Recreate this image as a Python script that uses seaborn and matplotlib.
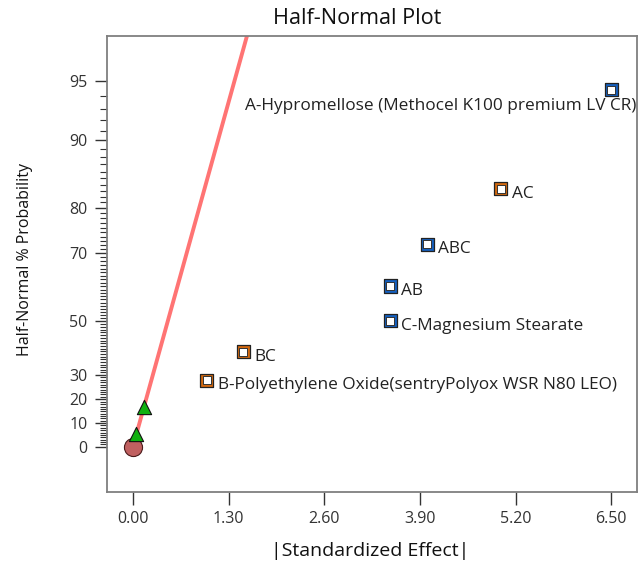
import matplotlib
matplotlib.use("Agg")
import matplotlib.pyplot as plt
import seaborn as sns
import pandas as pd
import numpy as np
from statistics import NormalDist

sns.set_style("white")
plt.rcParams['font.family'] = ['Open Sans', 'DejaVu Sans']

# effects (|standardized effect| vs half-normal % probability)
effect_names = ["A", "AC", "ABC", "AB", "C", "BC", "B"]
effect_labels = ["A-Hypromellose (Methocel K100 premium LV CR)", "AC", "ABC", "AB",
                 "C-Magnesium Stearate", "BC",
                 "B-Polyethylene Oxide(sentryPolyox WSR N80 LEO)"]
std_effect = [6.50, 5.00, 4.00, 3.50, 3.50, 1.50, 1.00]
half_normal_pct = [94.44, 83.33, 72.22, 61.11, 50.0, 38.89, 27.78]
effect_sign = ["negative", "positive", "negative", "negative", "negative", "positive", "positive"]

# error estimates
error_effect = [0.046, 0.145]
error_pct = [5.56, 16.67]
origin_effect = [0.0]
origin_pct = [0.0]

# reference line (effect values, slope in z units per effect)
line_effect = [0.046, 1.65]
line_slope = 1.422

y_major = [0, 10, 20, 30, 50, 70, 80, 90, 95]
y_minor = [v for v in range(1, 95) if v not in y_major]
x_major = [0.0, 1.3, 2.6, 3.9, 5.2, 6.5]

nd = NormalDist()
_inv_cdf = np.vectorize(nd.inv_cdf, otypes=[float])
_cdf = np.vectorize(nd.cdf, otypes=[float])


def fwd(p):
    q = np.clip(0.5 + np.asarray(p, float) / 200.0, 1e-9, 1 - 1e-9)
    return _inv_cdf(q)


def inv(z):
    return (2 * _cdf(np.asarray(z, float)) - 1) * 100.0


df = pd.DataFrame({"name": effect_names, "label": effect_labels, "effect": std_effect,
                   "pct": half_normal_pct, "sign": effect_sign})
palette = {"positive": "#d4690f", "negative": "#1560c0"}

fig = plt.figure(figsize=(6.38, 5.68), dpi=100)
ax = fig.add_axes([107 / 638, 1 - 492 / 568, 530 / 638, 456 / 568])
ax.set_yscale("function", functions=(fwd, inv))

# fitted line
line_df = pd.DataFrame({"x": line_effect,
                        "y": inv(np.array(line_effect) * line_slope)})
sns.lineplot(data=line_df, x="x", y="y", ax=ax, color="#ff7474", linewidth=2.8,
             zorder=2, legend=False)

# effect markers: coloured square with white centre
sns.scatterplot(data=df, x="effect", y="pct", hue="sign", palette=palette, marker="s",
                s=90, edgecolor="#222222", linewidth=0.9, ax=ax, legend=False, zorder=3)
sns.scatterplot(data=df, x="effect", y="pct", marker="s", color="white",
                s=30, edgecolor="#333333", linewidth=0.7, ax=ax, legend=False, zorder=4)

# error terms
sns.scatterplot(x=origin_effect, y=origin_pct, marker="o", color="#c06060", s=170,
                edgecolor="#4a1a1a", linewidth=0.8, ax=ax, legend=False, zorder=3)
sns.scatterplot(x=error_effect, y=error_pct, marker="^", color="#10b010", s=105,
                edgecolor="#111111", linewidth=0.8, ax=ax, legend=False, zorder=4)

for _, r in df.iterrows():
    if r["name"] == "A":
        ax.annotate(r["label"], (r["effect"], r["pct"]), xytext=(25, -16),
                    textcoords="offset pixels", ha="right", va="center",
                    fontsize=12.4, color="#222222")
    else:
        ax.annotate(r["label"], (r["effect"], r["pct"]), xytext=(11, -5),
                    textcoords="offset pixels", ha="left", va="center",
                    fontsize=12.4, color="#222222")

ax.set_xlim(-0.353, 6.851)
ax.set_ylim(inv(-0.244), inv(2.203))
ax.set_xticks(x_major)
ax.set_xticklabels([f"{v:.2f}" for v in x_major])
ax.set_yticks(y_major)
ax.set_yticklabels([str(v) for v in y_major])
ax.set_yticks(y_minor, minor=True)
ax.xaxis.set_minor_locator(matplotlib.ticker.NullLocator())
ax.tick_params(axis="both", which="major", direction="out", length=9, width=1,
               color="#333333", labelsize=11.5, labelcolor="#333333", pad=5,
               left=True, bottom=True)
ax.tick_params(axis="y", which="minor", direction="out", length=5, width=0.8,
               color="#333333", left=True)
for sp in ax.spines.values():
    sp.set_color("#7f7f7f")
    sp.set_linewidth(1.3)
ax.set_xlabel("")
ax.set_ylabel("")

fig.text(357 / 638, 1 - 18 / 568, "Half-Normal Plot", ha="center", va="center",
         fontsize=15.6, color="#111111")
fig.text(370 / 638, 1 - 551 / 568, "|Standardized Effect|", ha="center", va="center",
         fontsize=14, color="#111111")
fig.text(25 / 638, 1 - 259 / 568, "Half-Normal % Probability", ha="center", va="center",
         rotation=90, fontsize=11.5, color="#111111")

fig.savefig("out.png", dpi=100)
